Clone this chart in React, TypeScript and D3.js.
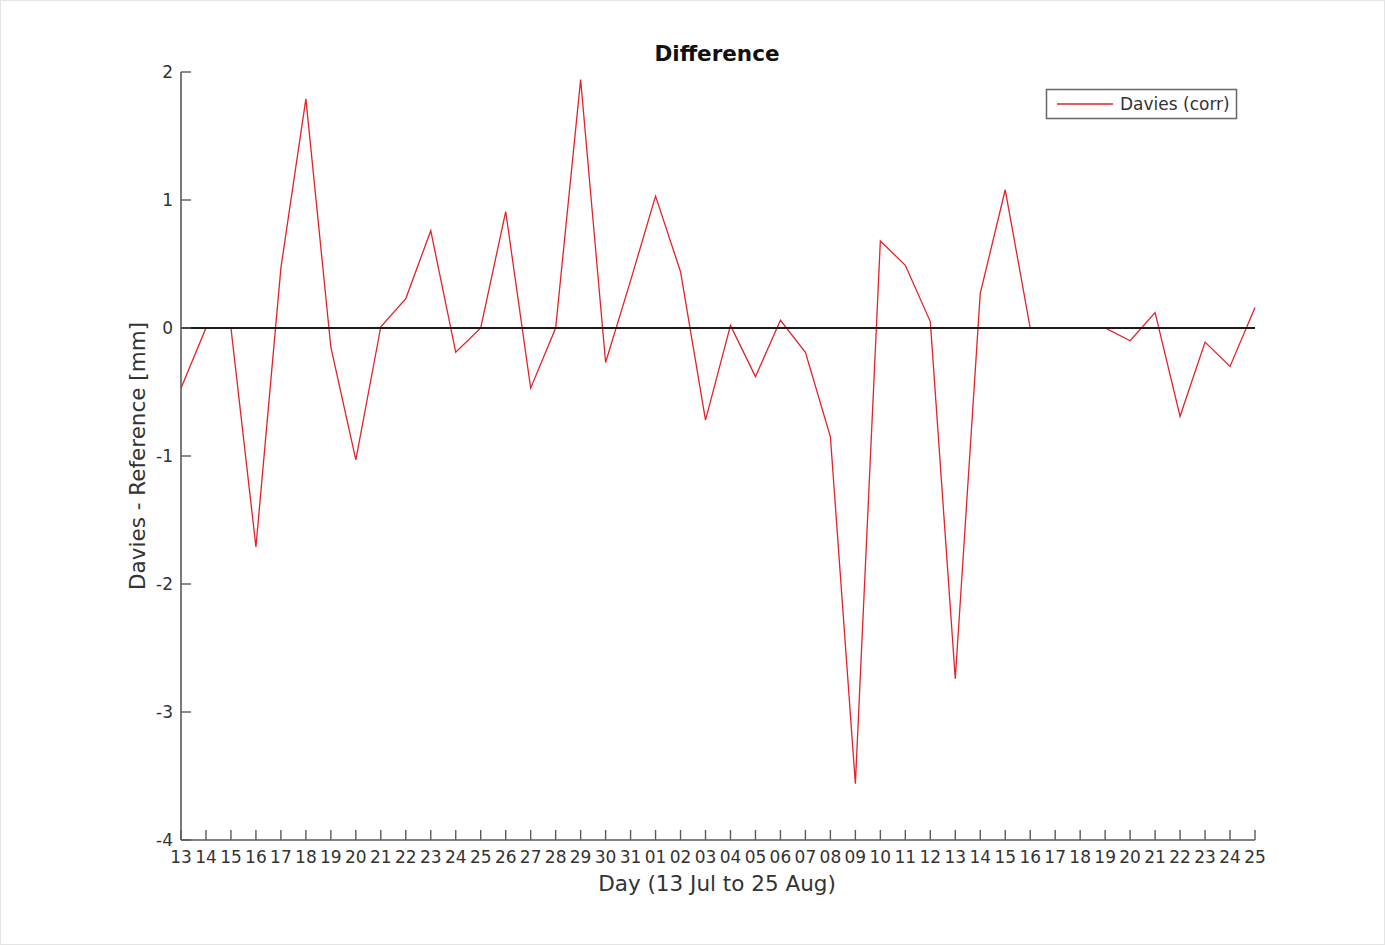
import React from "react";
import * as d3 from "d3";

// Day labels, 13 Jul .. 25 Aug
const dayLabels: string[] = [
  "13", "14", "15", "16", "17", "18", "19", "20", "21", "22", "23", "24", "25", "26", "27", "28", "29", "30", "31",
  "01", "02", "03", "04", "05", "06", "07", "08", "09", "10", "11", "12", "13", "14", "15", "16", "17", "18", "19",
  "20", "21", "22", "23", "24", "25",
];

// Davies (corr) minus reference, mm
const daviesDiff: number[] = [
  -0.47, 0, 0, -1.71, 0.47, 1.79, -0.15, -1.03, 0.01, 0.23, 0.76, -0.19, 0.0, 0.91, -0.47, 0.0, 1.94, -0.27, 0.37,
  1.03, 0.44, -0.72, 0.02, -0.38, 0.06, -0.19, -0.85, -3.56, 0.68, 0.49, 0.05, -2.74, 0.27, 1.08, 0, 0, 0, 0,
  -0.1, 0.12, -0.69, -0.11, -0.3, 0.16,
];

const yTicks: number[] = [-4, -3, -2, -1, 0, 1, 2];

const W = 1385;
const H = 945;
const FONT = "'DejaVu Sans', sans-serif";

export default function App() {
  const x = d3.scaleLinear().domain([0, dayLabels.length - 1]).range([181, 1255]);
  const y = d3.scaleLinear().domain([-4, 2]).range([840, 72]);

  const line = d3
    .line<number>()
    .x((_, i) => x(i))
    .y((d) => y(d));

  const axisColor = "#5a5a5a";
  const textColor = "#333";
  const tickLen = 10;

  return (
    <svg
      width={W}
      height={H}
      style={{ position: "absolute", left: 0, top: 0, background: "#fff" }}
      fontFamily={FONT}
    >
      <rect x={0.5} y={0.5} width={W - 1} height={H - 1} fill="#fff" stroke="#e4e4e4" />

      {/* title */}
      <text x={717} y={61} textAnchor="middle" fontSize={21.5} fontWeight="bold" fill="#111">
        Difference
      </text>

      {/* data line */}
      <path d={line(daviesDiff) ?? ""} fill="none" stroke="#e3222a" strokeWidth={1.3} />

      {/* zero reference line */}
      <line x1={x(0)} x2={x(dayLabels.length - 1)} y1={y(0)} y2={y(0)} stroke="#1a1a1a" strokeWidth={2} />

      {/* y axis */}
      <line x1={x(0)} x2={x(0)} y1={y(2)} y2={y(-4)} stroke={axisColor} strokeWidth={1.6} />
      {yTicks.map((t) => (
        <g key={`y${t}`}>
          <line x1={x(0)} x2={x(0) + tickLen} y1={y(t)} y2={y(t)} stroke={axisColor} strokeWidth={1.4} />
          <text x={x(0) - 8} y={y(t)} dy="0.35em" textAnchor="end" fontSize={17} fill={textColor}>
            {t}
          </text>
        </g>
      ))}

      {/* x axis */}
      <line x1={x(0)} x2={x(dayLabels.length - 1)} y1={y(-4)} y2={y(-4)} stroke={axisColor} strokeWidth={1.6} />
      {dayLabels.map((lab, i) => (
        <g key={`x${i}`}>
          <line x1={x(i)} x2={x(i)} y1={y(-4)} y2={y(-4) - tickLen} stroke={axisColor} strokeWidth={1.4} />
          <text x={x(i)} y={y(-4) + 23} textAnchor="middle" fontSize={17} fill={textColor}>
            {lab}
          </text>
        </g>
      ))}

      {/* axis labels */}
      <text x={717} y={891} textAnchor="middle" fontSize={21.5} fill={textColor}>
        Day (13 Jul to 25 Aug)
      </text>
      <text
        transform={`translate(145, ${(y(2) + y(-4)) / 2}) rotate(-90)`}
        textAnchor="middle"
        fontSize={21.5}
        fill={textColor}
      >
        Davies - Reference [mm]
      </text>

      {/* legend */}
      <rect x={1046.5} y={89.5} width={190} height={29} fill="#fff" stroke="#666" strokeWidth={1.5} />
      <line x1={1057} x2={1113} y1={104} y2={104} stroke="#e3222a" strokeWidth={1.3} />
      <text x={1120} y={104} dy="0.35em" fontSize={17} fill={textColor}>
        Davies (corr)
      </text>
    </svg>
  );
}
